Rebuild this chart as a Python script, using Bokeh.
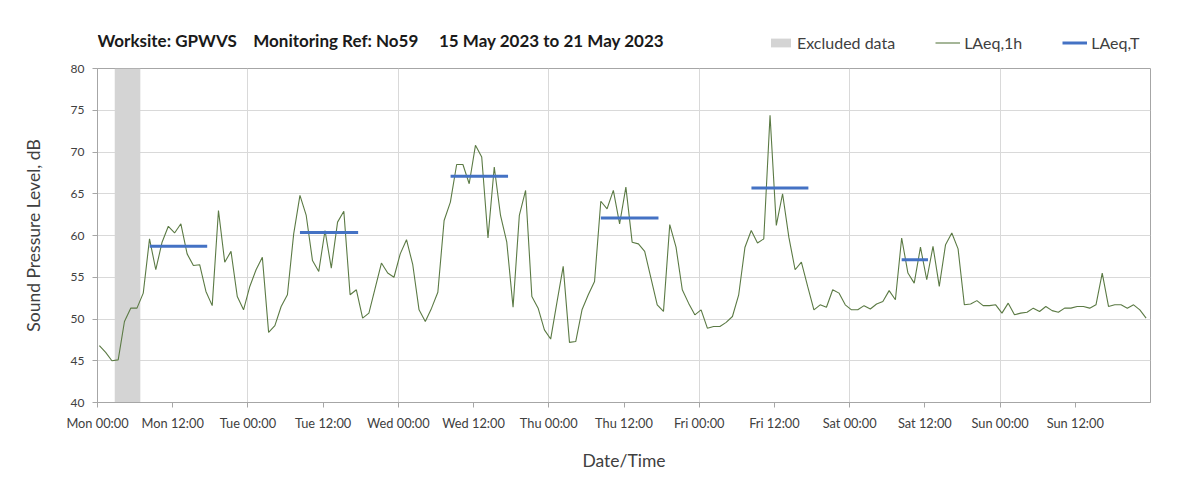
import numpy as np
import pandas as pd
from bokeh.plotting import figure
from bokeh.layouts import column
from bokeh.models import (FixedTicker, DatetimeTickFormatter, Range1d, Legend,
                          LegendItem, ColumnDataSource, Label)
from bokeh.embed import file_html
from bokeh.resources import INLINE

# ---------------- data ----------------
title_text = ("Worksite: GPWVS\u00a0\u00a0\u00a0\u00a0Monitoring Ref: No59"
              "\u00a0\u00a0\u00a0\u00a0\u00a015 May 2023 to 21 May 2023")

first_reading = "2023-05-15 00:18"

laeq_1h = [
    46.8, 46.0, 45.0, 45.1, 49.7, 51.3, 51.3, 53.1, 59.6, 55.9, 59.2, 61.1,
    60.3, 61.4, 57.8, 56.4, 56.5, 53.3, 51.6, 63.0, 56.8, 58.1, 52.7, 51.1,
    53.9, 55.9, 57.4, 48.4, 49.2, 51.5, 52.9, 60.2, 64.8, 62.4, 57.0, 55.7,
    60.6, 56.1, 61.6, 62.9, 52.9, 53.5, 50.1, 50.7, 53.7, 56.7, 55.5, 55.0,
    57.8, 59.5, 56.5, 51.1, 49.7, 51.3, 53.2, 61.8, 64.0, 68.5, 68.5, 66.2,
    70.8, 69.4, 59.7, 68.2, 62.4, 59.2, 51.4, 62.4, 65.4, 52.7, 51.3, 48.7,
    47.6, 52.0, 56.3, 47.2, 47.3, 51.1, 52.9, 54.5, 64.1, 63.2, 65.4, 61.4,
    65.8, 59.2, 59.0, 58.1, 54.9, 51.7, 50.9, 61.3, 58.6, 53.5, 51.9, 50.5,
    51.1, 48.9, 49.1, 49.1, 49.6, 50.3, 52.9, 58.6, 60.6, 59.1, 59.6, 74.4,
    61.2, 65.0, 59.8, 55.9, 56.8, 53.9, 51.1, 51.7, 51.4, 53.5, 53.1, 51.7,
    51.1, 51.1, 51.6, 51.2, 51.8, 52.1, 53.4, 52.3, 59.7, 55.5, 54.3, 58.6,
    54.7, 58.7, 53.9, 58.9, 60.3, 58.4, 51.7, 51.8, 52.2, 51.6, 51.6, 51.7,
    50.7, 51.9, 50.5, 50.7, 50.8, 51.3, 50.9, 51.5, 51.0, 50.8, 51.3, 51.3,
    51.5, 51.5, 51.3, 51.7, 55.5, 51.5, 51.7, 51.7, 51.3, 51.7, 51.1, 50.1,
]

excluded_start = ["2023-05-15 02:45"]
excluded_end = ["2023-05-15 06:50"]

laeqT_start = ["2023-05-15 08:20", "2023-05-16 08:18", "2023-05-17 08:20",
               "2023-05-18 08:18", "2023-05-19 08:20", "2023-05-20 08:18"]
laeqT_end = ["2023-05-15 17:30", "2023-05-16 17:35", "2023-05-17 17:30",
             "2023-05-18 17:30", "2023-05-19 17:25", "2023-05-20 12:30"]
laeqT_values = [58.7, 60.35, 67.1, 62.1, 65.7, 57.1]

week_start = "2023-05-15 00:00"
week_end = "2023-05-22 00:00"
y_min, y_max = 40, 80

# ---------------- styles / layout ----------------
FONT = "Lato"
GREEN = "#5b7a44"
BLUE = "#4472C4"
GREY_BAND = "#d4d4d4"
LEFT, FRAME_W, RIGHT = 97, 1053, 45
HEAD_H = 60
FRAME_H = 334

# ---------------- header (title + legend) ----------------
head = figure(frame_width=FRAME_W, frame_height=HEAD_H,
              x_range=Range1d(0, FRAME_W), y_range=Range1d(0, HEAD_H),
              title=None, x_axis_location=None, y_axis_location=None,
              output_backend="svg", toolbar_location=None,
              min_border_left=LEFT, min_border_right=RIGHT,
              min_border_top=0, min_border_bottom=0)
head.grid.visible = False
head.outline_line_color = None
head.background_fill_color = "white"
head.border_fill_color = "white"

head.add_layout(Label(x=0, y=HEAD_H - 40, text=title_text,
                      text_font=FONT, text_font_style="bold",
                      text_font_size="17px", text_color="#1a1a1a",
                      text_baseline="middle", text_align="left"))

# legend proxies (one row of NaN so nothing is drawn in the header itself)
proxy = ColumnDataSource(dict(l=[np.nan], r=[np.nan], b=[np.nan], t=[np.nan],
                              x=[np.nan], y=[np.nan]))
lg_ex = head.quad(left="l", right="r", bottom="b", top="t", source=proxy,
                  fill_color=GREY_BAND, line_color=None)
lg_ln = head.line("x", "y", source=proxy, line_color=GREEN, line_width=1.1)
lg_sg = head.line("x", "y", source=proxy, line_color=BLUE, line_width=3)

legend = Legend(items=[LegendItem(label="Excluded data", renderers=[lg_ex]),
                       LegendItem(label="LAeq,1h", renderers=[lg_ln]),
                       LegendItem(label="LAeq,T", renderers=[lg_sg])],
                orientation="horizontal", location=(671, HEAD_H - 52),
                glyph_width=25, glyph_height=11, label_standoff=4, spacing=40,
                padding=0, margin=0, border_line_color=None,
                background_fill_alpha=0,
                label_text_font=FONT, label_text_font_size="16px",
                label_text_color="#404040")
head.add_layout(legend, "center")

# ---------------- main chart ----------------
times = pd.date_range(first_reading, periods=len(laeq_1h), freq="h")
src_line = ColumnDataSource(dict(t=times, v=laeq_1h))
src_T = ColumnDataSource(dict(x0=pd.to_datetime(laeqT_start),
                              x1=pd.to_datetime(laeqT_end),
                              y=laeqT_values))
src_ex = ColumnDataSource(dict(l=pd.to_datetime(excluded_start),
                               r=pd.to_datetime(excluded_end),
                               b=[y_min] * len(excluded_start),
                               t=[y_max] * len(excluded_start)))

p = figure(frame_width=FRAME_W, frame_height=FRAME_H, x_axis_type="datetime",
           x_range=Range1d(pd.Timestamp(week_start), pd.Timestamp(week_end)),
           y_range=Range1d(y_min, y_max), title=None,
           output_backend="svg", toolbar_location=None,
           min_border_left=LEFT, min_border_right=RIGHT,
           min_border_top=68 - HEAD_H, min_border_bottom=84)

p.quad(left="l", right="r", bottom="b", top="t", source=src_ex,
       fill_color=GREY_BAND, line_color=None)
p.line("t", "v", source=src_line, line_color=GREEN, line_width=1.1)
p.segment("x0", "y", "x1", "y", source=src_T, line_color=BLUE, line_width=3)

half_days = pd.date_range(week_start, periods=14, freq="12h")
days = pd.date_range(week_start, periods=8, freq="D")
p.xaxis.ticker = FixedTicker(ticks=[t.value // 10**6 for t in half_days])
p.xgrid.ticker = FixedTicker(ticks=[t.value // 10**6 for t in days])
fmt = "%a %H:%M"
p.xaxis.formatter = DatetimeTickFormatter(
    microseconds=fmt, milliseconds=fmt, seconds=fmt, minsec=fmt, minutes=fmt,
    hourmin=fmt, hours=fmt, days=fmt, months=fmt, years=fmt, context=None)
p.yaxis.ticker = FixedTicker(ticks=list(range(y_min, y_max + 1, 5)))

for ax in (p.xaxis, p.yaxis):
    ax.axis_line_color = "#a6a6a6"
    ax.major_tick_line_color = "#a6a6a6"
    ax.minor_tick_line_color = None
    ax.major_tick_in = 0
    ax.major_tick_out = 5
    ax.major_label_text_font = FONT
    ax.major_label_text_color = "#404040"
    ax.axis_label_text_font = FONT
    ax.axis_label_text_font_style = "normal"
    ax.axis_label_text_color = "#404040"
    ax.axis_label_text_font_size = "17.5px"

p.xaxis.major_label_text_font_size = "12.8px"
p.yaxis.major_label_text_font_size = "12px"
p.xaxis.axis_label = "Date/Time"
p.xaxis.major_label_standoff = 7
p.xaxis.axis_label_standoff = 16
p.yaxis.axis_label = "Sound Pressure Level, dB"
p.yaxis.major_label_standoff = 8
p.yaxis.axis_label_standoff = 24

p.xgrid.grid_line_color = "#d9d9d9"
p.ygrid.grid_line_color = "#d9d9d9"
p.outline_line_color = "#a6a6a6"
p.background_fill_color = "white"
p.border_fill_color = "white"

layout = column(head, p, spacing=0)
open("out.html", "w").write(file_html(layout, INLINE))
